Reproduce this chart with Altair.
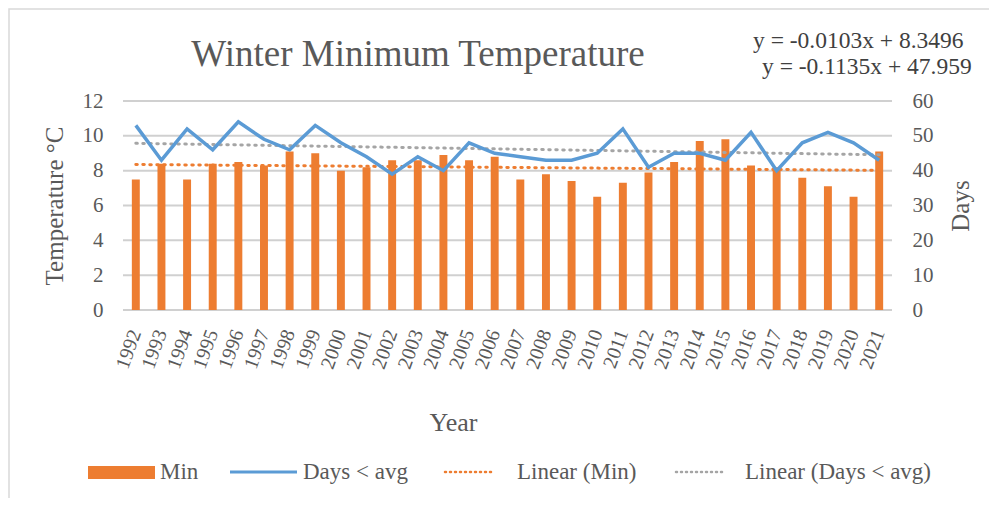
import altair as alt
import pandas as pd

years = [str(y) for y in range(1992, 2022)]
min_temp = [7.5, 8.4, 7.5, 8.4, 8.5, 8.3, 9.1, 9.0, 8.0, 8.2,
            8.6, 8.6, 8.9, 8.6, 8.8, 7.5, 7.8, 7.4, 6.5, 7.3,
            7.9, 8.5, 9.7, 9.8, 8.3, 8.2, 7.6, 7.1, 6.5, 9.1]
days_below = [53, 43, 52, 46, 54, 49, 46, 53, 48, 44,
              39, 44, 40, 48, 45, 44, 43, 43, 45, 52,
              41, 45, 45, 43, 51, 40, 48, 51, 48, 43]
left_ticks = [0, 2, 4, 6, 8, 10, 12]
right_ticks = [0, 10, 20, 30, 40, 50, 60]

df = pd.DataFrame({"Year": years, "Min": min_temp, "Days": days_below,
                   "idx": list(range(1, len(years) + 1))})
grid_df = pd.DataFrame({"Min": left_ticks})

FONT = "Liberation Serif"
GRAY = "#595959"
ORANGE = "#ed7d31"
BLUE = "#5b9bd5"
TGRAY = "#a5a5a5"
GRID = "#d0d0d0"

xscale = alt.Scale(domain=years, paddingInner=0.69, paddingOuter=0.345)
xenc = alt.X("Year:N", scale=xscale, sort=years,
             axis=alt.Axis(title="Year", labelAngle=-70, labelFontSize=20,
                           labelFont=FONT, labelColor=GRAY, titleFont=FONT,
                           titleFontSize=26, titleColor=GRAY, titleFontWeight="normal",
                           ticks=False, labelPadding=20, domain=False,
                           titleX=330, titleY=99, labelOverlap=False))

base = alt.Chart(df)

yleft = alt.Y("Min:Q", scale=alt.Scale(domain=[0, 12]),
              axis=alt.Axis(title="Temperature °C", values=left_ticks, tickCount=7,
                            grid=False, labelOverlap=False,
                            domain=False, ticks=False, labelFont=FONT, labelFontSize=21,
                            labelColor=GRAY, labelPadding=20, titleFont=FONT,
                            titleFontSize=25, titleColor=GRAY, titleFontWeight="normal",
                            titlePadding=15))
yright = alt.Y("Days:Q", scale=alt.Scale(domain=[0, 60]),
               axis=alt.Axis(title="Days", orient="right", values=right_ticks, tickCount=7,
                             grid=False, domain=False, ticks=False, labelFont=FONT,
                             labelOverlap=False,
                             labelFontSize=21, labelColor=GRAY, labelPadding=20,
                             titleFont=FONT, titleFontSize=25, titleColor=GRAY,
                             titleFontWeight="normal", titleAngle=270, titlePadding=40))

grid = alt.Chart(grid_df).mark_rule(color=GRID, strokeWidth=2).encode(y=yleft)
bars = base.mark_bar(color=ORANGE).encode(x=xenc, y=yleft)
min_trend = base.transform_regression("idx", "Min", extent=[1, 30]).transform_calculate(
    Year="toString(1991 + datum.idx)").mark_line(
    color=ORANGE, strokeDash=[1.5, 5.5], strokeWidth=3, strokeCap="round").encode(
    x=xenc, y=yleft)

days_line = base.mark_line(color=BLUE, strokeWidth=3.5).encode(x=xenc, y=yright)
days_trend = base.transform_regression("idx", "Days", extent=[1, 30]).transform_calculate(
    Year="toString(1991 + datum.idx)").mark_line(
    color=TGRAY, strokeDash=[1.5, 5.5], strokeWidth=3, strokeCap="round").encode(
    x=xenc, y=yright)

left = alt.layer(grid, bars, min_trend)
right = alt.layer(days_trend, days_line)

texts = pd.DataFrame({"t": ["Winter Minimum Temperature",
                            "y = -0.0103x + 8.3496", "y = -0.1135x + 47.959"]})

def free_text(t, xpos, ypos, size, color, align="left"):
    return alt.Chart(texts).transform_filter(alt.datum.t == t).mark_text(
        font=FONT, fontSize=size, color=color, align=align, baseline="middle").encode(
        text="t:N", x=alt.value(xpos), y=alt.value(ypos))

title = free_text("Winter Minimum Temperature", 295, -46, 37, GRAY, align="center")
eq1 = free_text("y = -0.0103x + 8.3496", 630, -60, 23.5, "#404040")
eq2 = free_text("y = -0.1135x + 47.959", 639, -34, 23.5, "#404040")

leg = pd.DataFrame({"label": ["Min", "Days < avg", "Linear (Min)", "Linear (Days < avg)"]})
def leg_text(lbl, xpos):
    return alt.Chart(leg).transform_filter(alt.datum.label == lbl).mark_text(
        font=FONT, fontSize=23, color=GRAY, align="left", baseline="middle").encode(
        text="label:N", x=alt.value(xpos), y=alt.value(371))

leg_rect = alt.Chart(leg).transform_filter(alt.datum.label == "Min").mark_rect(color=ORANGE).encode(
    x=alt.value(-35), x2=alt.value(32), y=alt.value(365), y2=alt.value(378))
leg_line = alt.Chart(leg).transform_filter(alt.datum.label == "Days < avg").mark_rule(
    color=BLUE, strokeWidth=3).encode(x=alt.value(107), x2=alt.value(174), y=alt.value(371))
leg_dot1 = alt.Chart(leg).transform_filter(alt.datum.label == "Linear (Min)").mark_rule(
    color=ORANGE, strokeWidth=2.5, strokeDash=[1, 4], strokeCap="round").encode(
    x=alt.value(322), x2=alt.value(370), y=alt.value(371))
leg_dot2 = alt.Chart(leg).transform_filter(alt.datum.label == "Linear (Days < avg)").mark_rule(
    color=TGRAY, strokeWidth=2.5, strokeDash=[1, 4], strokeCap="round").encode(
    x=alt.value(553), x2=alt.value(600), y=alt.value(371))

border = alt.Chart(leg).transform_filter(alt.datum.label == "Min").mark_rect(
    fill=None, stroke="#d9d9d9", strokeWidth=1.5).encode(
    x=alt.value(-114), x2=alt.value(1000), y=alt.value(-92), y2=alt.value(600))

chart = alt.layer(
    border, left, right, title, eq1, eq2,
    leg_rect, leg_line, leg_dot1, leg_dot2,
    leg_text("Min", 37), leg_text("Days < avg", 180),
    leg_text("Linear (Min)", 394), leg_text("Linear (Days < avg)", 622),
).resolve_scale(y="independent").properties(
    width=769, height=209,
    autosize=alt.AutoSizeParams(type="none"),
    padding={"left": 115, "top": 93, "right": 97, "bottom": 188},
).configure_view(stroke=None)

chart.save("out.html", embed_options={"renderer": "svg", "actions": False})
